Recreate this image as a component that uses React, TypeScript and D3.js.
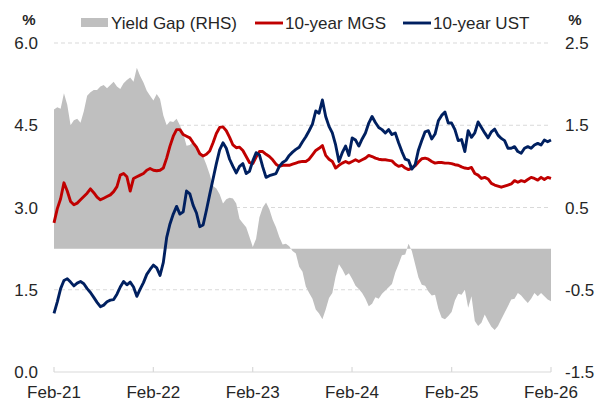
import * as d3 from "d3";

const W = 597;
const H = 401;
const MARGIN = { top: 43, right: 46, bottom: 29, left: 54 };
const FONT = "'Liberation Sans', Arial, sans-serif";

const RED = "#C00000";
const NAVY = "#002060";
const GRAY = "#BFBFBF";
const GRID = "#D9D9D9";

// sampled roughly every 12 days, Feb-21 .. Feb-26
const START = new Date(2021, 1, 1);
const END = new Date(2026, 1, 1);

const mgs = [
  2.72, 2.98, 3.16, 3.45, 3.30, 3.11, 3.05, 3.08, 3.14, 3.20,
  3.26, 3.34, 3.27, 3.19, 3.14, 3.17, 3.20, 3.23, 3.29, 3.38,
  3.59, 3.62, 3.56, 3.30, 3.53, 3.56, 3.59, 3.62, 3.68, 3.71,
  3.68, 3.67, 3.68, 3.72, 3.90, 4.12, 4.30, 4.42,
  4.42, 4.33, 4.30, 4.27, 4.18, 4.10, 3.98, 3.94, 3.97, 4.03,
  4.18, 4.35, 4.46, 4.47, 4.40, 4.28, 4.14, 4.09, 4.10, 4.04,
  3.93, 3.82, 3.80, 3.92, 4.02, 4.02, 3.97, 3.93, 3.87, 3.79,
  3.75, 3.77, 3.77, 3.77, 3.79, 3.81, 3.83,
  3.84, 3.84, 3.88, 3.96, 4.04, 4.08, 4.13, 3.95, 3.88, 3.84,
  3.72, 3.77, 3.81, 3.84, 3.81, 3.84, 3.87, 3.84, 3.87, 3.90,
  3.95, 3.93, 3.90, 3.88, 3.87, 3.87, 3.86, 3.85, 3.79, 3.75,
  3.77, 3.72, 3.69, 3.72, 3.76, 3.83, 3.89, 3.90,
  3.88, 3.84, 3.81, 3.82, 3.82, 3.81, 3.81, 3.80, 3.78, 3.77,
  3.74, 3.72, 3.71, 3.73, 3.62, 3.59, 3.53, 3.55, 3.52, 3.44,
  3.41, 3.39, 3.37, 3.39, 3.41, 3.43, 3.49, 3.46, 3.49, 3.47,
  3.51, 3.55, 3.53, 3.50, 3.55, 3.51, 3.55, 3.53,
];

const ust = [
  1.07, 1.28, 1.52, 1.67, 1.70, 1.64, 1.57, 1.62, 1.65, 1.61,
  1.52, 1.45, 1.36, 1.27, 1.19, 1.22, 1.28, 1.31, 1.32, 1.42,
  1.55, 1.65, 1.59, 1.64, 1.55, 1.38, 1.51, 1.63, 1.78, 1.87,
  1.95, 1.90, 1.76, 2.00, 2.45, 2.70, 2.88, 3.02,
  2.88, 2.92, 3.30, 3.25, 3.04, 2.90, 2.65, 2.68, 2.95, 3.24,
  3.52, 3.80, 4.05, 4.18, 4.08, 3.88, 3.75, 3.63, 3.75, 3.80,
  3.62, 3.66, 3.85, 4.00, 3.96, 3.74, 3.55, 3.58, 3.60, 3.62,
  3.75, 3.82, 3.86, 3.95, 4.01, 4.06, 4.10,
  4.20, 4.29, 4.40, 4.52, 4.76, 4.72, 4.96, 4.66, 4.48, 4.36,
  4.14, 3.84, 4.00, 4.12, 3.95, 4.27, 4.23, 4.12, 4.25, 4.36,
  4.54, 4.66, 4.55, 4.46, 4.42, 4.36, 4.42, 4.33, 4.36, 4.18,
  4.02, 3.88, 3.86, 3.70, 3.78, 4.05, 4.22, 4.38,
  4.40, 4.25, 4.34, 4.58, 4.68, 4.74, 4.54, 4.54, 4.42, 4.22,
  4.24, 4.02, 4.40, 4.28, 4.36, 4.56, 4.46, 4.36, 4.27, 4.38,
  4.43, 4.32, 4.26, 4.22, 4.08, 4.08, 4.11, 4.02, 3.99, 4.08,
  4.11, 4.08, 4.14, 4.17, 4.14, 4.23, 4.20, 4.23,
];

// yield gap, right-hand scale
const gap = [
  1.69, 1.72, 1.70, 1.89, 1.75, 1.50, 1.56, 1.58, 1.53, 1.67,
  1.86, 1.90, 1.93, 1.93, 1.97, 1.99, 1.95, 1.99, 2.03, 1.97,
  1.94, 2.01, 2.05, 2.08, 2.03, 2.20, 2.10, 2.02, 1.92, 1.86,
  1.80, 1.88, 1.82, 1.62, 1.50, 1.55, 1.54, 1.58,
  1.50, 1.40, 1.25, 1.26, 1.30, 1.22, 1.18, 1.12, 1.02, 0.90,
  0.76, 0.73, 0.66, 0.55, 0.60, 0.62, 0.61, 0.55, 0.36, 0.31,
  0.26, 0.14, 0.02, 0.12, 0.38, 0.50, 0.56, 0.48, 0.35, 0.26,
  0.14, 0.05, 0.06, 0.03, -0.03, -0.06, -0.22,
  -0.28, -0.46, -0.54, -0.61, -0.74, -0.79, -0.86, -0.74, -0.60, -0.54,
  -0.34, -0.19, -0.25, -0.33, -0.30, -0.37, -0.45, -0.49, -0.54, -0.61,
  -0.70, -0.67, -0.59, -0.61, -0.55, -0.51, -0.47, -0.43, -0.29, -0.19,
  -0.08, -0.07, 0.06, -0.03, -0.19, -0.35, -0.44, -0.45,
  -0.52, -0.57, -0.56, -0.73, -0.84, -0.86, -0.82, -0.77, -0.63, -0.55,
  -0.56, -0.50, -0.72, -0.58, -0.88, -0.94, -0.90, -0.80, -0.88, -0.95,
  -0.99, -0.94, -0.86, -0.78, -0.70, -0.62, -0.61, -0.54, -0.57, -0.62,
  -0.66, -0.61, -0.54, -0.58, -0.54, -0.58, -0.62, -0.64,
];

const leftTicks = [0, 1.5, 3.0, 4.5, 6.0];
const rightTicks = [-1.5, -0.5, 0.5, 1.5, 2.5];
const yearTicks = [2021, 2022, 2023, 2024, 2025, 2026];

export default function App() {
  const innerW = W - MARGIN.left - MARGIN.right;
  const bottom = H - MARGIN.bottom;

  const x = d3.scaleTime().domain([START, END]).range([MARGIN.left, MARGIN.left + innerW]);
  const yL = d3.scaleLinear().domain([0, 6]).range([bottom, MARGIN.top]);
  const yR = d3.scaleLinear().domain([-1.5, 2.5]).range([bottom, MARGIN.top]);

  const n = mgs.length;
  const idx = d3.scaleLinear().domain([0, n - 1]).range([START.getTime(), END.getTime()]);
  const xi = (i: number) => x(new Date(idx(i)));

  const lineL = d3.line<number>().x((_, i) => xi(i)).y((d) => yL(d));
  const area = d3
    .area<number>()
    .x((_, i) => xi(i))
    .y0(yR(0))
    .y1((d) => yR(d));

  const txt = { fontFamily: FONT, fontSize: 17, fill: "#262626" };

  return (
    <svg width={W} height={H} style={{ position: "absolute", left: 0, top: 0, background: "#fff" }}>
      {/* gridlines */}
      {leftTicks.filter((t) => t > 0).map((t) => (
        <line key={t} x1={MARGIN.left} x2={MARGIN.left + innerW - 2} y1={yL(t)} y2={yL(t)}
          stroke={GRID} strokeWidth={1} strokeDasharray="4,3" />
      ))}

      <path d={area(gap) ?? ""} fill={GRAY} />

      <path d={lineL(mgs) ?? ""} fill="none" stroke={RED} strokeWidth={2.9} strokeLinejoin="round" />
      <path d={lineL(ust) ?? ""} fill="none" stroke={NAVY} strokeWidth={2.9} strokeLinejoin="round" />

      {/* x axis */}
      <line x1={MARGIN.left} x2={MARGIN.left + innerW} y1={bottom} y2={bottom} stroke={GRID} strokeWidth={1.2} />
      {yearTicks.map((yr) => {
        const px = x(new Date(yr, 1, 1));
        return (
          <g key={yr}>
            <line x1={px} x2={px} y1={bottom} y2={bottom - 5} stroke={GRID} strokeWidth={1.2} />
            <text x={px} y={bottom + 26} textAnchor="middle" {...txt}>
              {"Feb-" + String(yr).slice(2)}
            </text>
          </g>
        );
      })}

      {/* left axis labels */}
      {leftTicks.map((t) => (
        <text key={t} x={38} y={yL(t) + 6} textAnchor="end" {...txt}>{t.toFixed(1)}</text>
      ))}
      {/* right axis labels */}
      {rightTicks.map((t) => (
        <text key={t} x={565} y={yR(t) + 6} textAnchor="start" {...txt}>{t.toFixed(1)}</text>
      ))}

      <text x={29} y={25} textAnchor="middle" {...txt} fontSize={15} fontWeight="bold">%</text>
      <text x={575} y={25} textAnchor="middle" {...txt} fontSize={15} fontWeight="bold">%</text>

      {/* legend */}
      <rect x={81} y={18} width={27} height={9} fill={GRAY} />
      <text x={111} y={29} {...txt}>Yield Gap (RHS)</text>
      <line x1={255} x2={283} y1={23} y2={23} stroke={RED} strokeWidth={2.9} />
      <text x={285} y={29} {...txt}>10-year MGS</text>
      <line x1={403} x2={431} y1={23} y2={23} stroke={NAVY} strokeWidth={2.9} />
      <text x={433} y={29} {...txt}>10-year UST</text>
    </svg>
  );
}
